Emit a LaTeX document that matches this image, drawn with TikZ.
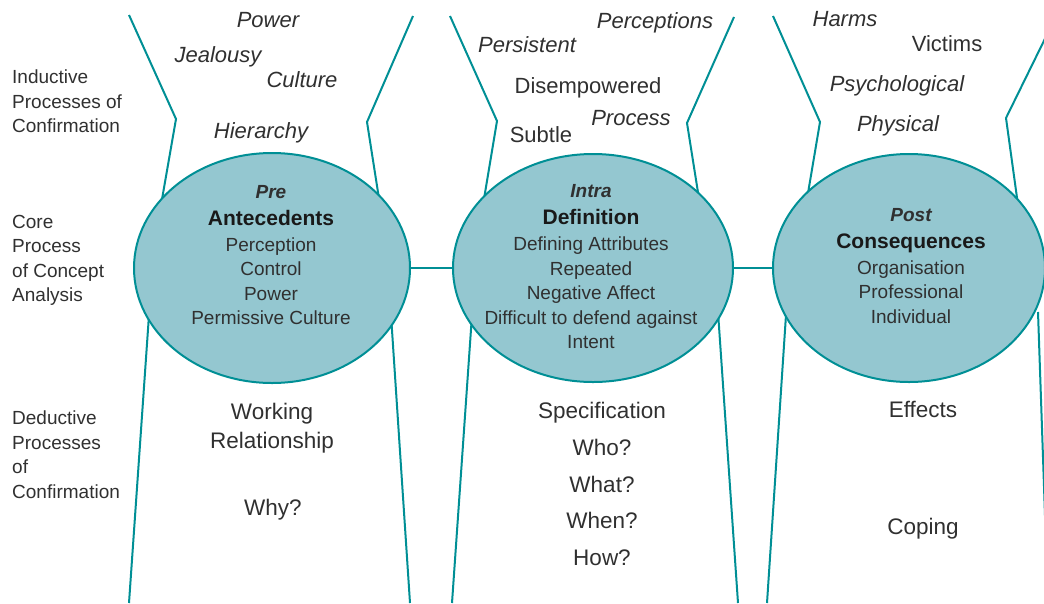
\documentclass[tikz,border=0pt]{standalone}
\usepackage{fontspec}
\setmainfont{Liberation Sans}
\usetikzlibrary{shapes.geometric}
\definecolor{tealline}{RGB}{0,143,149}
\definecolor{tealfill}{RGB}{148,199,208}
\definecolor{inkgray}{RGB}{48,48,48}

\begin{document}
\begin{tikzpicture}[x={(1pt,0pt)},y={(0pt,-1pt)},
	funnel/.style={tealline,line width=2pt},
	stage/.style={ellipse,draw=tealline,fill=tealfill,line width=2pt,inner sep=0pt},
	word/.style={inkgray,font=\fontsize{22}{26}\selectfont,anchor=base},
	wordit/.style={word,font=\fontsize{22}{26}\selectfont\itshape},
	low/.style={inkgray,font=\fontsize{22.5}{29}\selectfont,align=center,inner sep=0pt},
	body/.style={inkgray,font=\fontsize{19}{24.5}\selectfont,align=center,inner sep=0pt},
	side/.style={inkgray,font=\fontsize{19}{24.5}\selectfont,align=left,anchor=north west,inner sep=0pt}]
	\clip (0,0) rectangle (1044,603);
	% funnels
	\draw[funnel] (129,15) -- (176,119) -- (161,205);
	\draw[funnel] (413,16) -- (367,122) -- (380,205);
	\draw[funnel] (149,315) -- (129,603);
	\draw[funnel] (391,315) -- (410,603);
	\draw[funnel] (450,16) -- (497,121) -- (483,205);
	\draw[funnel] (734,17) -- (687,123) -- (700,205);
	\draw[funnel] (472,315) -- (452,603);
	\draw[funnel] (718,312) -- (738,603);
	\draw[funnel] (773,16) -- (820,122) -- (806,205);
	\draw[funnel] (1064,0) -- (1006,118) -- (1018,205);
	\draw[funnel] (786,315) -- (767,603);
	\draw[funnel] (1038,312) -- (1048,603);
	% stages
	\node[stage,minimum width=276,minimum height=230] (ante) at (272,268) {};
	\node[stage,minimum width=280,minimum height=228] (defi) at (593,268) {};
	\node[stage,minimum width=272,minimum height=228] (cons) at (909,268) {};
	\draw[funnel] (ante) -- (defi);
	\draw[funnel] (defi) -- (cons);
	\node[body] (antetext) at (271,255) {{\bfseries\itshape Pre}\\[2.5pt]{\fontsize{21}{24.5}\selectfont\bfseries\color{black!90}Antecedents}\\[1.5pt]Perception\\Control\\Power\\Permissive Culture};
	\node[body] (defitext) at (591,267) {{\bfseries\itshape Intra}\\[2.5pt]{\fontsize{21}{24.5}\selectfont\bfseries\color{black!90}Definition}\\[1.5pt]Defining Attributes\\Repeated\\Negative Affect\\Difficult to defend against\\Intent};
	\node[body] (constext) at (911,266) {{\bfseries\itshape Post}\\[2.5pt]{\fontsize{21}{24.5}\selectfont\bfseries\color{black!90}Consequences}\\[1.5pt]Organisation\\Professional\\Individual};
	% inductive words
	\node[wordit] (power) at (268,27) {Power};
	\node[wordit] (jealousy) at (218,62) {Jealousy};
	\node[wordit] (culture) at (302,87) {Culture};
	\node[wordit] (hierarchy) at (261,138) {Hierarchy};
	\node[wordit] (perceptions) at (655,28) {Perceptions};
	\node[wordit] (persistent) at (527,52) {Persistent};
	\node[word] (disempowered) at (588,93) {Disempowered};
	\node[wordit] (process) at (631,125) {Process};
	\node[word] (subtle) at (541,142) {Subtle};
	\node[wordit] (harms) at (845,26) {Harms};
	\node[word] (victims) at (947,51) {Victims};
	\node[wordit] (psychological) at (897,91) {Psychological};
	\node[wordit] (physical) at (898,131) {Physical};
	% deductive words
	\node[low] (working) at (272,428) {Working\\Relationship};
	\node[word,font=\fontsize{22.5}{29}\selectfont] (why) at (273,515) {Why?};
	\node[low,font=\fontsize{22.5}{36.8}\selectfont] (spec) at (602,484) {Specification\\Who?\\What?\\When?\\How?};
	\node[word,font=\fontsize{22.5}{29}\selectfont] (effects) at (923,417) {Effects};
	\node[word,font=\fontsize{22.5}{29}\selectfont] (coping) at (923,534) {Coping};
	% row labels
	\node[side] (induct) at (12,70) {Inductive\\Processes of\\Confirmation};
	\node[side] (core) at (12,215) {Core\\Process\\of Concept\\Analysis};
	\node[side] (deduct) at (12,411) {Deductive\\Processes\\of\\Confirmation};
\end{tikzpicture}
\end{document}
